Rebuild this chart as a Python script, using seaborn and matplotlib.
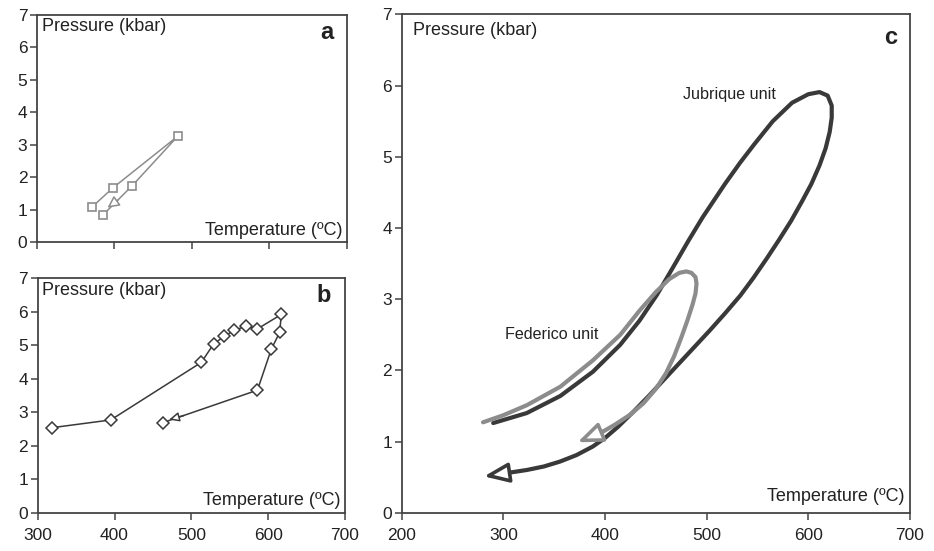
import numpy as np
import matplotlib
matplotlib.use("Agg")
import matplotlib.pyplot as plt
import seaborn as sns

# panel a - P-T path (grey squares)
a_temp = [371, 398, 482, 423, 385]
a_pres = [1.08, 1.67, 3.27, 1.74, 0.83]

# panel b - P-T path (diamonds)
b_temp = [319, 395, 513, 529, 543, 556, 571, 586, 617, 615, 604, 586, 463]
b_pres = [2.54, 2.77, 4.49, 5.04, 5.27, 5.45, 5.57, 5.49, 5.92, 5.39, 4.88, 3.66, 2.69]

# panel c - Jubrique unit loop
jub_temp = [290, 323, 356, 388, 415, 434, 451, 467, 482, 496, 518, 533, 547, 565, 584,
            600, 611, 619, 623, 623, 621, 617, 611, 603, 594, 583, 571, 559, 546, 533,
            518, 503, 488, 473, 458, 443, 428, 413, 400, 388, 372, 356, 340, 323, 300]
jub_pres = [1.26, 1.40, 1.64, 1.98, 2.36, 2.70, 3.06, 3.45, 3.82, 4.15, 4.62, 4.92, 5.18,
            5.50, 5.76, 5.88, 5.91, 5.86, 5.72, 5.55, 5.35, 5.12, 4.88, 4.62, 4.38, 4.10,
            3.83, 3.57, 3.30, 3.05, 2.80, 2.56, 2.33, 2.10, 1.87, 1.64, 1.42, 1.21, 1.05,
            0.93, 0.81, 0.72, 0.65, 0.60, 0.55]
jub_tip = (281, 0.51)

# panel c - Federico unit loop
fed_temp = [280, 300, 323, 356, 388, 415, 434, 450, 463, 473, 480, 485, 489, 490, 489,
            486, 481, 475, 468, 460, 450, 438, 425, 410, 398]
fed_pres = [1.27, 1.37, 1.51, 1.77, 2.14, 2.50, 2.84, 3.10, 3.28, 3.37, 3.39, 3.37, 3.31,
            3.22, 3.08, 2.92, 2.70, 2.46, 2.20, 1.96, 1.74, 1.54, 1.38, 1.24, 1.14]
fed_tip = (373, 0.99)

txt_col = "#222222"
dark = "#393939"
grey = "#8c8c8c"

sns.set_style("ticks")
plt.rcParams['font.family'] = ['Liberation Sans', 'DejaVu Sans']

fig = plt.figure(figsize=(9.34, 5.51), dpi=100)
ax_a = fig.add_axes([0.0396, 0.5608, 0.3319, 0.4120])
ax_b = fig.add_axes([0.0404, 0.0695, 0.3290, 0.4254])
ax_c = fig.add_axes([0.4301, 0.0695, 0.5442, 0.9042])


def style_axes(ax, xmin, xmax, show_xlabels=True):
    ax.set_xlim(xmin, xmax)
    ax.set_ylim(0, 7)
    ax.set_xticks(range(xmin, xmax + 1, 100))
    ax.set_yticks(range(0, 8))
    ax.set_xlabel("")
    ax.set_ylabel("")
    for s in ax.spines.values():
        s.set_visible(True)
        s.set_color("#444444")
        s.set_linewidth(1.3)
    ax.tick_params(axis="both", direction="out", length=5, width=1.1,
                   color="#444444", labelsize=12.5, labelcolor=txt_col, pad=2)
    ax.tick_params(axis="x", pad=6)
    if not show_xlabels:
        ax.set_xticklabels([])


def head(ax, tip, tail, col, lw, hl, hw):
    ax.annotate("", xy=tip, xytext=tail,
                arrowprops=dict(arrowstyle="-|>,head_length=%s,head_width=%s" % (hl, hw),
                                fc="white", ec=col, lw=lw, shrinkA=0, shrinkB=0))


line_kw = dict(sort=False, estimator=None, errorbar=None)

# panel a
sns.lineplot(x=a_temp, y=a_pres, ax=ax_a, color=grey, lw=1.1,
             marker="s", markersize=6, markerfacecolor="white",
             markeredgecolor=grey, markeredgewidth=1.2, **line_kw)
head(ax_a, (391, 1.06), (405, 1.3), grey, 1.1, 0.7, 0.35)
style_axes(ax_a, 300, 700, show_xlabels=False)

# panel b
sns.lineplot(x=b_temp, y=b_pres, ax=ax_b, color=dark, lw=1.1,
             marker="D", markersize=6.5, markerfacecolor="white",
             markeredgecolor=dark, markeredgewidth=1.1, **line_kw)
head(ax_b, (471, 2.78), (490, 2.90), dark, 1.1, 0.6, 0.28)
style_axes(ax_b, 300, 700)

# panel c
sns.lineplot(x=jub_temp, y=jub_pres, ax=ax_c, color=dark, lw=3.0, **line_kw)
sns.lineplot(x=fed_temp, y=fed_pres, ax=ax_c, color=grey, lw=3.0, **line_kw)
head(ax_c, jub_tip, (jub_temp[-1], jub_pres[-1]), dark, 2.6, 1.5, 0.6)
head(ax_c, fed_tip, (fed_temp[-1], fed_pres[-1]), grey, 2.6, 1.5, 0.6)
style_axes(ax_c, 200, 700)

for ax, letter in [(ax_a, "a"), (ax_b, "b"), (ax_c, "c")]:
    big = ax is not ax_c
    ax.text(0.015 if big else 0.023, 0.985, "Pressure (kbar)",
            transform=ax.transAxes, ha="left", va="top", fontsize=13, color=txt_col)
    ax.text(0.985 if big else 0.99, 0.015, "Temperature (ºC)", transform=ax.transAxes,
            ha="right", va="bottom", fontsize=13, color=txt_col)
    ax.text(0.955 if big else 0.974, 0.975 if big else 0.977, letter,
            transform=ax.transAxes, ha="right", va="top", fontsize=17,
            fontweight="bold", color=txt_col)

ax_c.text(477, 5.87, "Jubrique unit", ha="left", va="center", fontsize=11.6, color=txt_col)
ax_c.text(302, 2.51, "Federico unit", ha="left", va="center", fontsize=11.6, color=txt_col)

fig.savefig("out.png", dpi=100)
